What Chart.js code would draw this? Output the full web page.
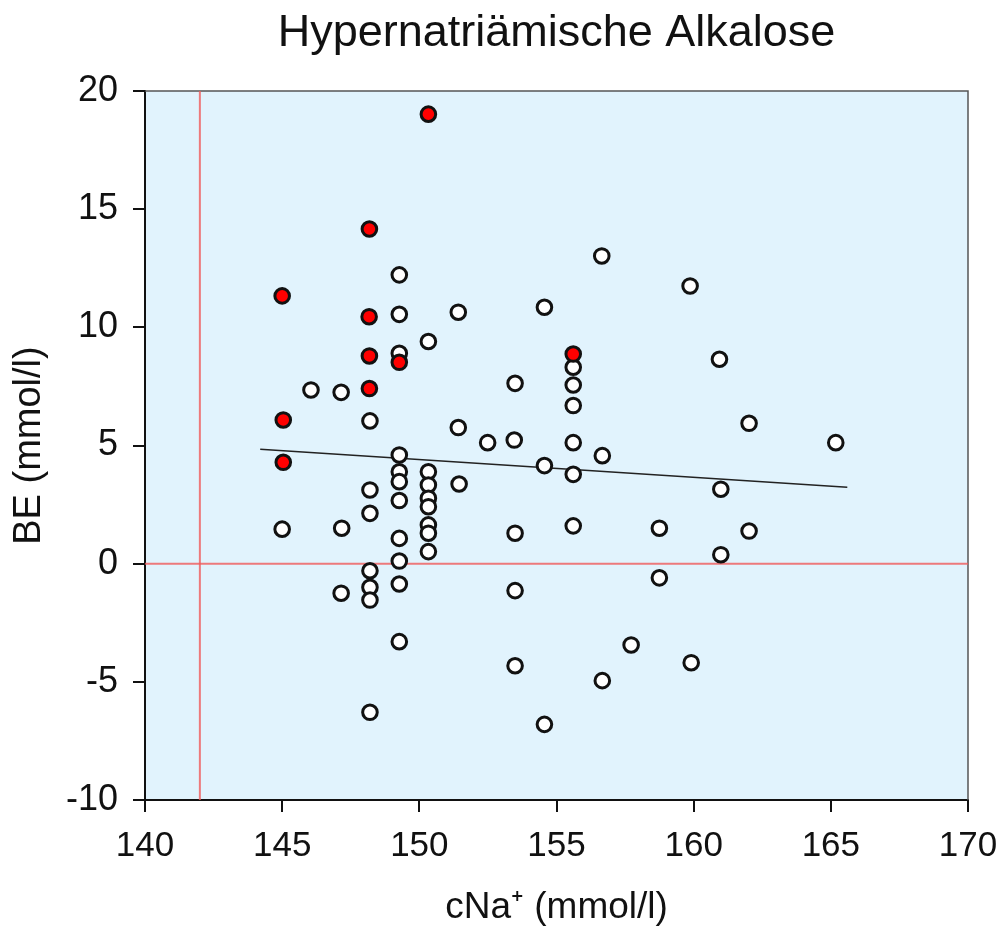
<!DOCTYPE html>
<html>
<head>
<meta charset="utf-8">
<title>Hypernatriämische Alkalose</title>
<script src="https://cdn.jsdelivr.net/npm/chart.js@4/dist/chart.umd.min.js"></script>
<style>
  html, body { margin: 0; padding: 0; background: #fff; }
  #wrap { width: 1003px; height: 926px; }
</style>
</head>
<body>
<div id="wrap"><canvas id="chart"></canvas></div>
<script>
// open circles
const whiteX = [145.0, 146.05, 147.15, 147.17, 147.15, 148.2, 148.2, 148.2, 148.2, 148.2, 148.2, 148.2,
  149.27, 149.27, 149.27, 149.27, 149.27, 149.27, 149.27, 149.27, 149.27, 149.27, 149.27,
  150.33, 150.33, 150.33, 150.33, 150.33, 150.33, 150.33, 150.33,
  151.42, 151.42, 151.45, 152.49, 153.49, 153.46, 153.49, 153.49, 153.49,
  154.56, 154.56, 154.56, 155.61, 155.61, 155.61, 155.61, 155.61, 155.61,
  156.65, 156.67, 156.67, 157.72, 158.75, 158.75, 159.87, 159.91,
  160.94, 160.99, 160.99, 162.02, 162.02, 165.18];
const whiteY = [1.46, 7.35, 7.25, 1.5, -1.25, 6.04, 3.12, 2.13, -0.3, -1.0, -1.54, -6.29,
  12.22, 10.55, 8.9, 4.6, 3.89, 3.47, 2.67, 1.07, 0.11, -0.86, -3.3,
  9.4, 3.89, 3.33, 2.77, 2.41, 1.64, 1.29, 0.51,
  10.64, 5.76, 3.37, 5.12, 7.63, 5.23, 1.29, -1.14, -4.32,
  10.85, 4.15, -6.8, 8.31, 7.56, 6.69, 5.12, 3.78, 1.6,
  13.02, 4.57, -4.95, -3.44, 1.5, -0.6, 11.75, -4.19,
  8.65, 3.15, 0.38, 5.94, 1.38, 5.12];

// filled red circles
const redX = [150.33, 148.18, 145.0, 148.17, 148.18, 149.27, 148.18, 145.04, 145.04, 155.61];
const redY = [19.02, 14.16, 11.33, 10.45, 8.79, 8.52, 7.41, 6.08, 4.29, 8.87];

// regression line
const trendX = [144.2, 165.6];
const trendY = [4.84, 3.23];

// reference lines
const zeroLineX = [140, 170];
const zeroLineY = [0, 0];
const naLineX = [142, 142];
const naLineY = [-10, 20];

const xTicks = [140, 145, 150, 155, 160, 165, 170];
const yTicks = [-10, -5, 0, 5, 10, 15, 20];

const toPoints = (xs, ys) => xs.map((x, i) => ({ x: x, y: ys[i] }));

const FONT = '"Liberation Sans", Arial, sans-serif';

const plotBackground = {
  id: 'plotBackground',
  beforeDraw(chart) {
    const { ctx, chartArea: a } = chart;
    ctx.save();
    ctx.fillStyle = '#E1F3FD';
    ctx.fillRect(a.left, a.top, a.right - a.left, a.bottom - a.top);
    ctx.restore();
  },
  beforeDatasetsDraw(chart) {
    const { ctx, chartArea: a } = chart;
    ctx.save();
    ctx.strokeStyle = '#555';
    ctx.lineWidth = 1.5;
    ctx.beginPath();
    ctx.moveTo(a.left, a.top);
    ctx.lineTo(a.right, a.top);
    ctx.lineTo(a.right, a.bottom);
    ctx.stroke();
    ctx.restore();
  }
};

const ctx = document.getElementById('chart').getContext('2d');
new Chart(ctx, {
  type: 'scatter',
  data: {
    datasets: [
      {
        label: 'rot',
        data: toPoints(redX, redY),
        backgroundColor: '#FF0000',
        borderColor: '#111',
        borderWidth: 3,
        pointRadius: 7.3,
        order: 0
      },
      {
        label: 'weiss',
        data: toPoints(whiteX, whiteY),
        backgroundColor: '#FFFFFF',
        borderColor: '#111',
        borderWidth: 3,
        pointRadius: 7.3,
        order: 1
      },
      {
        label: 'Regression',
        data: toPoints(trendX, trendY),
        showLine: true,
        borderColor: '#222',
        borderWidth: 1.5,
        pointRadius: 0,
        order: 2
      },
      {
        label: 'BE 0',
        data: toPoints(zeroLineX, zeroLineY),
        showLine: true,
        borderColor: 'rgba(240,90,90,0.8)',
        borderWidth: 2,
        pointRadius: 0,
        order: 3
      },
      {
        label: 'cNa 142',
        data: toPoints(naLineX, naLineY),
        showLine: true,
        borderColor: 'rgba(240,90,90,0.8)',
        borderWidth: 2,
        pointRadius: 0,
        order: 3
      }
    ]
  },
  options: {
    responsive: true,
    maintainAspectRatio: false,
    animation: false,
    layout: { padding: { top: 0, left: 0, right: 35, bottom: 0 } },
    plugins: {
      legend: { display: false },
      tooltip: { enabled: false },
      title: { display: false }
    },
    scales: {
      x: {
        type: 'linear',
        min: 140,
        max: 170,
        afterBuildTicks: (s) => { s.ticks = xTicks.map(v => ({ value: v })); },
        afterFit: (s) => { s.height = 126; s.paddingLeft = 0; s.paddingRight = 0; },
        ticks: {
          color: '#111',
          font: { family: FONT, size: 35 },
          padding: 13
        },
        grid: { drawOnChartArea: false, drawTicks: true, tickLength: 12, color: '#111', lineWidth: 2 },
        border: { display: true, color: '#111', width: 2 },
        title: {
          display: true,
          text: 'cNa⁺ (mmol/l)',
          color: '#111',
          font: { family: FONT, size: 37, lineHeight: 1 },
          padding: { top: 0, bottom: 0 }
        }
      },
      // top axis only carries the chart title, centred over the plot
      xTitle: {
        type: 'linear',
        position: 'top',
        min: 140,
        max: 170,
        afterFit: (s) => { s.height = 91; s.paddingLeft = 0; s.paddingRight = 0; },
        ticks: { display: false },
        grid: { display: false },
        border: { display: false },
        title: {
          display: true,
          text: 'Hypernatriämische Alkalose',
          color: '#111',
          font: { family: FONT, size: 45, lineHeight: 1.2 },
          padding: { top: 7, bottom: 0 }
        }
      },
      y: {
        type: 'linear',
        min: -10,
        max: 20,
        afterBuildTicks: (s) => { s.ticks = yTicks.map(v => ({ value: v })); },
        afterFit: (s) => { s.width = 145; },
        ticks: {
          color: '#111',
          font: { family: FONT, size: 36 },
          padding: 15
        },
        grid: { drawOnChartArea: false, drawTicks: true, tickLength: 12, color: '#111', lineWidth: 2 },
        border: { display: true, color: '#111', width: 2 },
        title: {
          display: true,
          text: 'BE (mmol/l)',
          color: '#111',
          font: { family: FONT, size: 38, lineHeight: 1.2 },
          padding: { top: 7, bottom: 0 }
        }
      }
    }
  },
  plugins: [plotBackground]
});
</script>
</body>
</html>
